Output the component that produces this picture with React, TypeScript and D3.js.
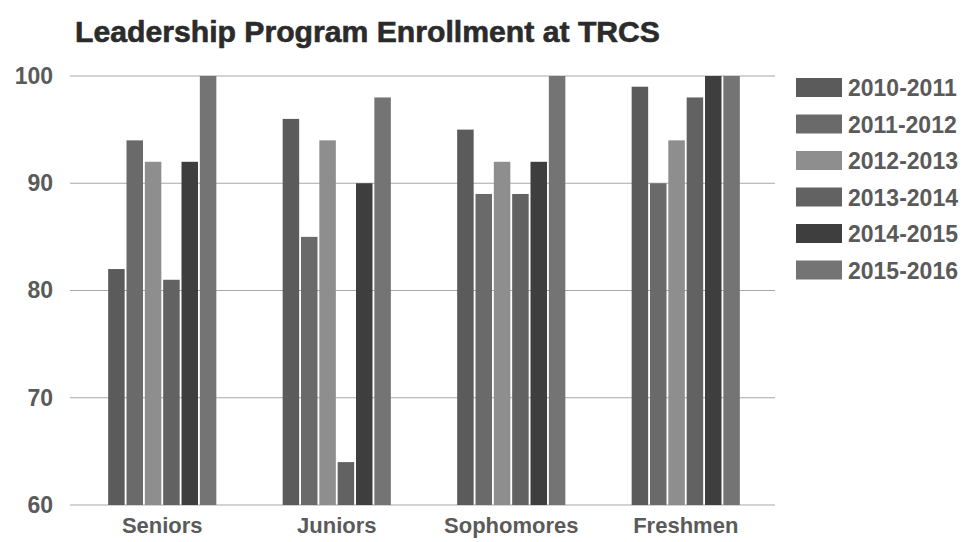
import React, { useEffect, useRef } from 'react';
import * as d3 from 'd3';

const categories = ['Seniors', 'Juniors', 'Sophomores', 'Freshmen'];
const seriesNames = ['2010-2011', '2011-2012', '2012-2013', '2013-2014', '2014-2015', '2015-2016'];
const seniors = [82, 94, 92, 81, 92, 100];
const juniors = [96, 85, 94, 64, 90, 98];
const sophomores = [95, 89, 92, 89, 92, 100];
const freshmen = [99, 90, 94, 98, 100, 100];
const yTicks = [60, 70, 80, 90, 100];
const seriesColors = ['#5b5b5b', '#6a6a6a', '#8e8e8e', '#626262', '#3e3e3e', '#747474'];

const App = () => {
    const svgRef = useRef<SVGSVGElement>(null);

    useEffect(() => {
        document.body.style.margin = '0';
        const width = 968;
        const height = 542;
        const margin = { top: 76, right: 195, bottom: 37, left: 75 };
        const innerW = width - margin.left - margin.right;
        const innerH = height - margin.top - margin.bottom;
        const fontFamily = '"Liberation Sans", Arial, sans-serif';

        const rows = [seniors, juniors, sophomores, freshmen].map((vals, i) => ({
            category: categories[i],
            values: vals.map((v, j) => ({ series: seriesNames[j], value: v })),
        }));

        const svg = d3.select(svgRef.current);
        svg.selectAll('*').remove();
        svg.attr('width', width).attr('height', height);

        svg.append('rect').attr('width', width).attr('height', height).attr('fill', '#ffffff');

        // title
        svg.append('text')
            .attr('x', 75)
            .attr('y', 42)
            .attr('font-family', fontFamily)
            .attr('font-weight', 700)
            .attr('font-size', 29)
            .attr('fill', '#2b2b2b')
            .attr('stroke', '#2b2b2b')
            .attr('stroke-width', 0.6)
            .attr('textLength', 585)
            .attr('lengthAdjust', 'spacingAndGlyphs')
            .text('Leadership Program Enrollment at TRCS');

        const g = svg.append('g').attr('transform', `translate(${margin.left},${margin.top})`);

        const x0 = d3.scaleBand()
            .domain(categories)
            .range([0, innerW])
            .paddingInner(0.38)
            .paddingOuter(0.19);

        const x1 = d3.scaleBand()
            .domain(seriesNames)
            .range([0, x0.bandwidth()])
            .paddingInner(0.1);

        const y = d3.scaleLinear().domain([60, 100]).range([innerH, 0]);

        const color = d3.scaleOrdinal<string, string>().domain(seriesNames).range(seriesColors);

        // grid lines
        g.selectAll('.grid-line')
            .data(yTicks)
            .enter()
            .append('line')
            .attr('class', 'grid-line')
            .attr('x1', -5)
            .attr('x2', innerW + 2)
            .attr('y1', d => y(d))
            .attr('y2', d => y(d))
            .attr('stroke', '#a8a8a8')
            .attr('stroke-width', 1.2);

        // bars
        const groups = g.selectAll('.group')
            .data(rows)
            .enter()
            .append('g')
            .attr('class', 'group')
            .attr('transform', d => `translate(${x0(d.category)},0)`);

        groups.selectAll('rect')
            .data(d => d.values)
            .enter()
            .append('rect')
            .attr('x', d => x1(d.series) as number)
            .attr('y', d => y(d.value))
            .attr('width', x1.bandwidth())
            .attr('height', d => innerH - y(d.value))
            .attr('fill', d => color(d.series));

        // y axis
        const yAxis = g.append('g')
            .call(d3.axisLeft(y).tickValues(yTicks).tickSize(0).tickPadding(22));
        yAxis.select('.domain').remove();
        yAxis.selectAll('text')
            .attr('font-family', fontFamily)
            .attr('font-weight', 700)
            .attr('font-size', 23)
            .attr('fill', '#5a5a5a');

        // x axis
        const xAxis = g.append('g')
            .attr('transform', `translate(0,${innerH})`)
            .call(d3.axisBottom(x0).tickSize(0).tickPadding(12));
        xAxis.select('.domain').remove();
        xAxis.selectAll('text')
            .attr('font-family', fontFamily)
            .attr('font-weight', 700)
            .attr('font-size', 22)
            .attr('fill', '#5a5a5a');

        // legend
        const legend = svg.append('g').attr('transform', 'translate(796,78)');
        const items = legend.selectAll('.legend-item')
            .data(seriesNames)
            .enter()
            .append('g')
            .attr('class', 'legend-item')
            .attr('transform', (d, i) => `translate(0,${i * 36.5})`);

        items.append('rect')
            .attr('width', 46)
            .attr('height', 19)
            .attr('fill', d => color(d));

        items.append('text')
            .attr('x', 52)
            .attr('y', 18)
            .attr('font-family', fontFamily)
            .attr('font-weight', 700)
            .attr('font-size', 23)
            .attr('fill', '#5a5a5a')
            .text(d => d);
    }, []);

    return <svg ref={svgRef} style={{ display: 'block' }}></svg>;
};

export default App;
